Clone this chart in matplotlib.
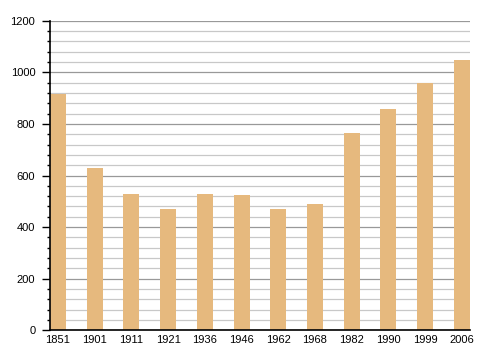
import matplotlib
matplotlib.use("Agg")
import matplotlib.pyplot as plt
from matplotlib.ticker import MultipleLocator

years = ["1851", "1901", "1911", "1921", "1936", "1946",
         "1962", "1968", "1982", "1990", "1999", "2006"]
population = [915, 630, 530, 469, 527, 523, 469, 488, 766, 858, 958, 1047]

plt.rcParams['font.family'] = ['Liberation Sans', 'DejaVu Sans']

fig = plt.figure(figsize=(4.8, 3.6), dpi=100)
ax = fig.add_axes([0.104, 0.082, 0.875, 0.861])

x = range(len(years))
ax.bar(x, population, width=0.436, color='#e6b97e', zorder=3)

ax.set_xlim(-0.218, len(years) - 1 + 0.218)
ax.set_ylim(0, 1200)
ax.set_xticks(list(x))
ax.set_xticklabels(years)

ax.yaxis.set_major_locator(MultipleLocator(200))
ax.yaxis.set_minor_locator(MultipleLocator(40))
ax.grid(which='major', axis='y', color='#999999', linewidth=0.9, zorder=0)
ax.grid(which='minor', axis='y', color='#c8c8c8', linewidth=0.9, zorder=0)

for side in ['top', 'right']:
    ax.spines[side].set_visible(False)
ax.spines['left'].set_linewidth(1.2)
ax.spines['bottom'].set_linewidth(1.2)
ax.spines['left'].set_zorder(4)
ax.spines['bottom'].set_zorder(4)

ax.tick_params(axis='y', which='major', length=5.5, width=1, pad=5, labelsize=8)
ax.tick_params(axis='y', which='minor', length=2.5, width=1)
ax.tick_params(axis='x', length=0, pad=3, labelsize=8)

fig.savefig("out.png", dpi=100)
